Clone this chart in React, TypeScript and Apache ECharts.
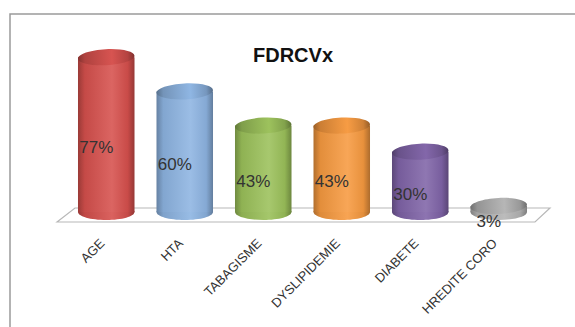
import React, { useEffect, useRef } from "react";
import * as echarts from "echarts";

const titleText = "FDRCVx";
const categories = ["AGE", "HTA", "TABAGISME", "DYSLIPIDEMIE", "DIABETE", "HREDITE CORO"];
const values = [77, 60, 43, 43, 30, 3];
const valueLabels = ["77%", "60%", "43%", "43%", "30%", "3%"];

const palette = ["#D6504D", "#8DB4E2", "#9BC15A", "#F79A40", "#8064A8", "#B5B5B5"];

function mix(hex: string, amt: number): string {
  const n = parseInt(hex.slice(1), 16);
  let r = (n >> 16) & 255, g = (n >> 8) & 255, b = n & 255;
  const t = amt < 0 ? 0 : 255;
  const p = Math.abs(amt);
  r = Math.round(r + (t - r) * p);
  g = Math.round(g + (t - g) * p);
  b = Math.round(b + (t - b) * p);
  return "rgb(" + r + "," + g + "," + b + ")";
}

function bodyGrad(c: string, d: number) {
  return new echarts.graphic.LinearGradient(0, 0, 1, 0, [
    { offset: 0, color: mix(c, -0.28 - d) },
    { offset: 0.12, color: mix(c, -0.08 - d) },
    { offset: 0.6, color: mix(c, 0.12 - d) },
    { offset: 0.88, color: mix(c, -0.06 - d) },
    { offset: 1, color: mix(c, -0.3 - d) },
  ]);
}

export default function App() {
  const ref = useRef<HTMLDivElement>(null);
  useEffect(() => {
    if (!ref.current) return;
    const chart = echarts.init(ref.current, undefined, { renderer: "svg" });
    const option: any = {
      animation: false,
      backgroundColor: "#ffffff",
      title: {
        text: titleText,
        left: 248,
        top: 40,
        textStyle: { fontSize: 20, fontWeight: "bold", fontFamily: "Liberation Sans", color: "#111" },
      },
      graphic: [
        {
          type: "rect",
          shape: { x: 10, y: 14, width: 700, height: 400 },
          style: { fill: "none", stroke: "#9a9a9a", lineWidth: 1.5 },
          silent: true,
        },
      ],
      grid: { left: 67, right: 37, top: 11, bottom: 115 },
      xAxis: { type: "category", data: categories, show: false },
      yAxis: { type: "value", min: 0, max: 100, show: false },
      series: [
        {
          type: "custom",
          z: 1,
          clip: false,
          silent: true,
          data: [[0, 0]],
          renderItem: (params: any) => {
            const cs = params.coordSys;
            const gx = cs.x, gw = cs.width, by = cs.y + cs.height;
            return {
              type: "polygon",
              shape: {
                points: [
                  [gx - 10, by + 10],
                  [gx + 8, by - 4],
                  [gx + gw + 12, by - 4],
                  [gx + gw - 3, by + 10],
                ],
              },
              style: { fill: "#ffffff", stroke: "#b8b8b8", lineWidth: 1.2 },
            };
          },
        },
        {
          type: "custom",
          z: 2,
          clip: false,
          silent: true,
          data: values.map((v, i) => [i, v]),
          encode: { x: 0, y: 1 },
          renderItem: (params: any, api: any) => {
            const i = params.dataIndex;
            const v = api.value(1);
            const base = api.coord([i, 0]);
            const top = api.coord([i, v]);
            const bw = api.size([1, 0])[0] * 0.72;
            const cx = base[0];
            const rx = bw / 2;
            const ry = 8;
            const c = palette[i];
            return {
              type: "group",
              children: [
                {
                  type: "ellipse",
                  shape: { cx, cy: base[1], rx, ry },
                  style: { fill: bodyGrad(c, 0.02) },
                },
                {
                  type: "rect",
                  shape: { x: cx - rx, y: top[1], width: bw, height: base[1] - top[1] },
                  style: { fill: bodyGrad(c, 0) },
                },
                {
                  type: "ellipse",
                  shape: { cx: 0, cy: 0, rx, ry },
                  x: cx,
                  y: top[1],
                  rotation: 0.05,
                  style: { fill: bodyGrad(c, 0.1) },
                },
                {
                  type: "text",
                  x: cx - 10,
                  y: (top[1] + base[1]) / 2 + 13,
                  z2: 20,
                  style: {
                    text: valueLabels[i],
                    font: '17px "Liberation Sans"',
                    fill: "#333333",
                    align: "center",
                    verticalAlign: "middle",
                  },
                },
                {
                  type: "text",
                  x: cx - 4,
                  y: base[1] + 29,
                  rotation: Math.PI / 4,
                  style: {
                    text: categories[i],
                    font: '13px "Liberation Sans"',
                    fill: "#333333",
                    align: "right",
                    verticalAlign: "middle",
                  },
                },
              ],
            };
          },
        },
      ],
    };
    chart.setOption(option);
    return () => chart.dispose();
  }, []);
  return (
    <div
      ref={ref}
      style={{ position: "fixed", left: 0, top: 0, width: 575, height: 327 }}
    />
  );
}
